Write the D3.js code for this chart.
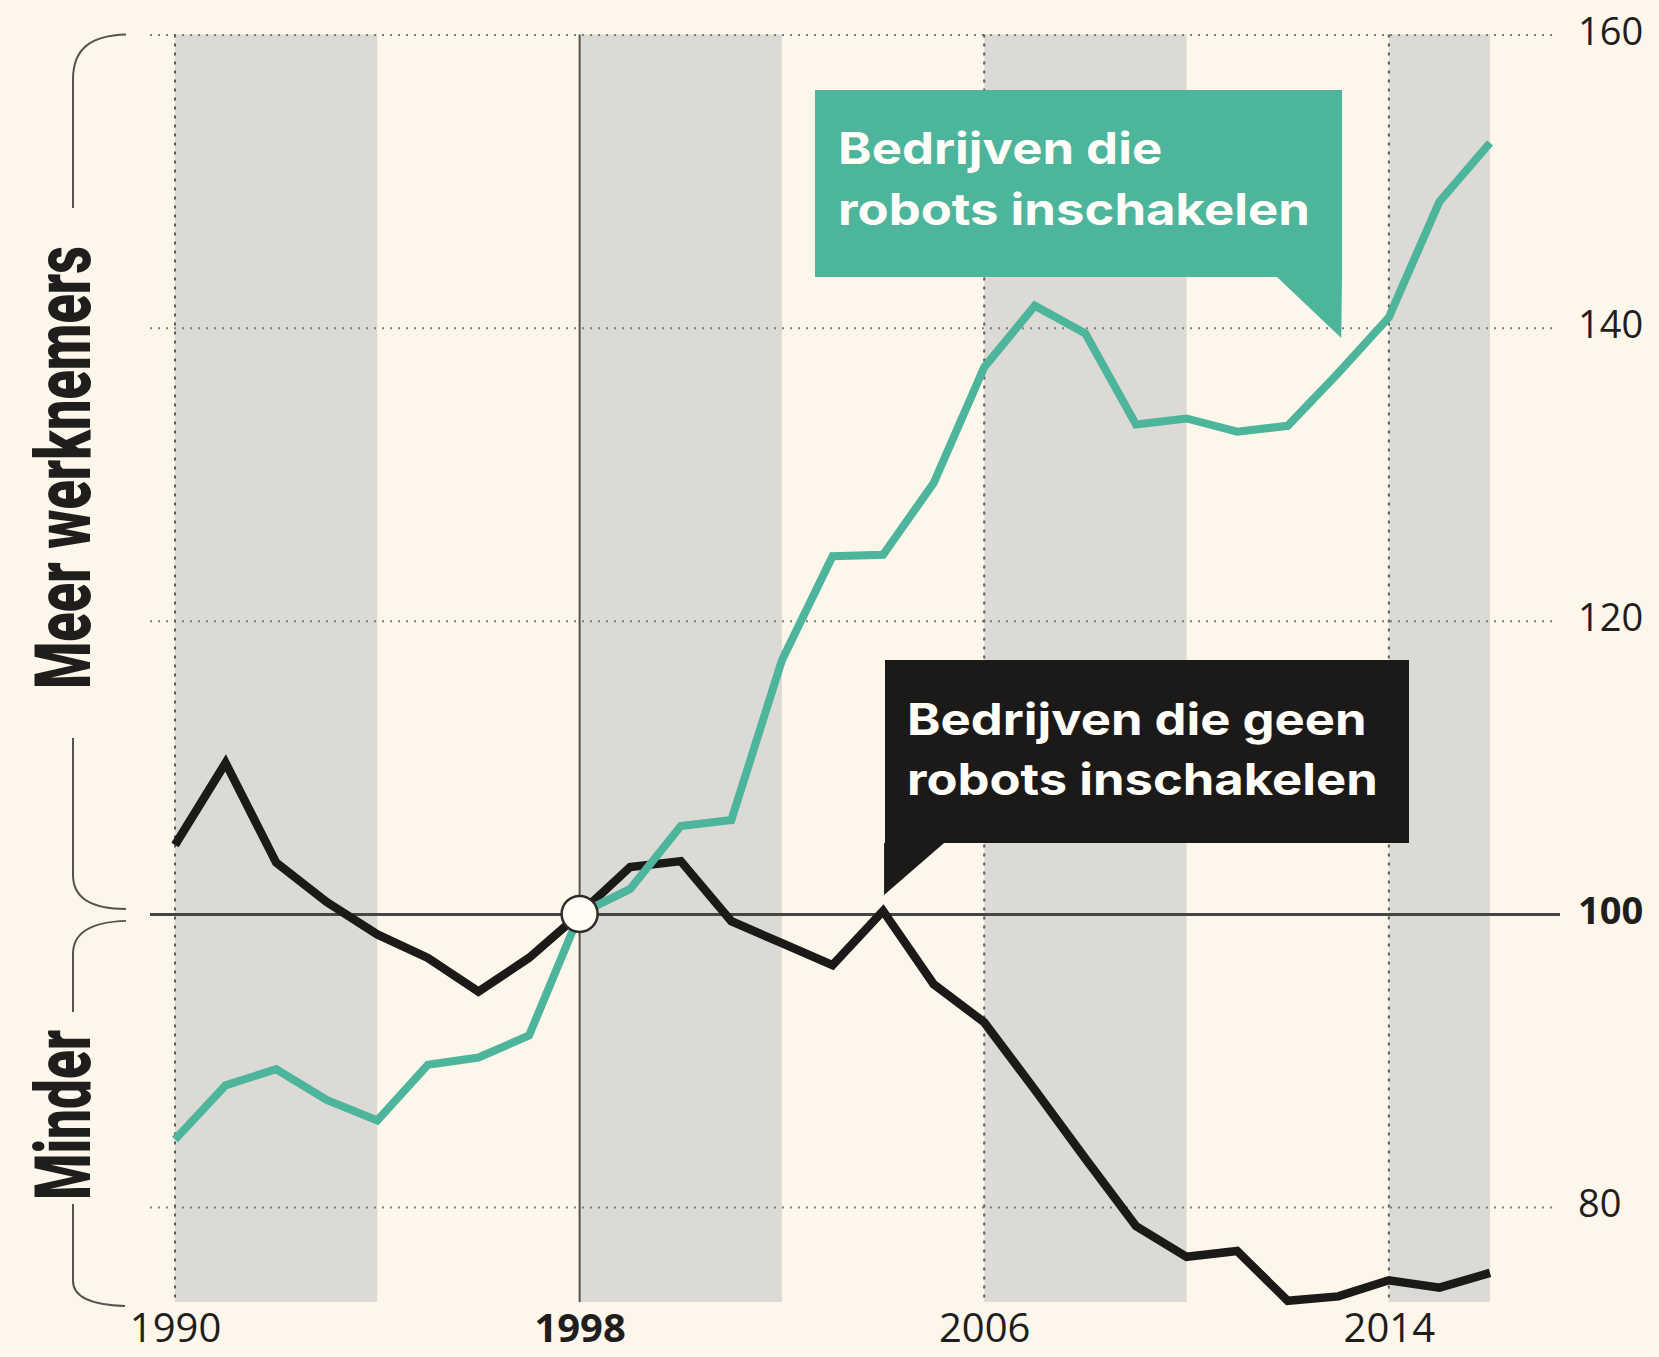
<!DOCTYPE html>
<html>
<head>
<meta charset="utf-8">
<script src="https://cdn.jsdelivr.net/npm/d3@7/dist/d3.min.js"></script>
<style>
  html, body { margin: 0; padding: 0; background: #fdf6eb; }
  svg { display: block; }
</style>
</head>
<body>
<svg id="chart" width="1659" height="1357"></svg>
<script>
// Werkgelegenheid, index 1998 = 100
const years = [1990, 1991, 1992, 1993, 1994, 1995, 1996, 1997, 1998, 1999, 2000, 2001, 2002,
               2003, 2004, 2005, 2006, 2007, 2008, 2009, 2010, 2011, 2012, 2013, 2014, 2015, 2016];

// Bedrijven die robots inschakelen
const robotFirms = [84.6, 88.3, 89.4, 87.3, 85.9, 89.7, 90.2, 91.7, 100, 101.7, 106.0, 106.4, 117.3,
                    124.4, 124.5, 129.4, 137.3, 141.5, 139.6, 133.4, 133.8, 132.9, 133.3, 136.9, 140.7, 148.6, 152.6];

// Bedrijven die geen robots inschakelen
const nonRobotFirms = [104.7, 110.3, 103.5, 100.8, 98.6, 97.0, 94.7, 97.0, 100, 103.2, 103.6, 99.5, 98.0,
                       96.5, 100.2, 95.2, 92.6, 88.0, 83.3, 78.7, 76.6, 77.0, 73.6, 73.9, 75.0, 74.5, 75.5];

const yTicks = [80, 100, 120, 140, 160];
const xTickYears = [1990, 1998, 2006, 2014];
const shadedPeriods = [[1990, 1994], [1998, 2002], [2006, 2010], [2014, 2016]];
const robotLabel = ["Bedrijven die", "robots inschakelen"];
const nonRobotLabel = ["Bedrijven die geen", "robots inschakelen"];
const moreLabel = "Meer werknemers";
const lessLabel = "Minder";
const baseYear = 1998;
const baseValue = 100;

const colors = {
  bg: "#fdf6eb",
  band: "#dcdad5",
  green: "#4db59c",
  black: "#1b1a19",
  grid: "#7c7c7c",
  axis: "#474542",
  text: "#1f1e1d"
};

const svg = d3.select("#chart");
const W = 1659, H = 1357;

const x = d3.scaleLinear().domain([1990, 2016]).range([175, 1490]);
const y = d3.scaleLinear().domain([80, 160]).range([1207, 34.5]);

const plotTop = y(160), plotBottom = 1302;
const gridLeft = 150, gridRight = 1557;

svg.append("rect").attr("width", W).attr("height", H).attr("fill", colors.bg);

// shaded periods
svg.append("g").selectAll("rect").data(shadedPeriods).join("rect")
  .attr("x", d => x(d[0]))
  .attr("width", d => x(d[1]) - x(d[0]))
  .attr("y", plotTop)
  .attr("height", plotBottom - plotTop)
  .attr("fill", colors.band);

// horizontal gridlines
const yAxis = d3.axisRight(y).tickValues(yTicks).tickSize(0).tickPadding(0);
const yG = svg.append("g").call(yAxis);
yG.select(".domain").remove();
yG.selectAll(".tick line").remove();
yG.selectAll(".tick").each(function (d) {
  const g = d3.select(this);
  g.insert("line", "text")
    .attr("x1", gridLeft).attr("x2", d === baseValue ? gridRight + 3 : gridRight)
    .attr("y1", 0).attr("y2", 0)
    .attr("stroke", d === baseValue ? colors.axis : colors.grid)
    .attr("stroke-width", d === baseValue ? 3 : 2)
    .attr("stroke-dasharray", d === baseValue ? null : "2,6");
});
yG.selectAll(".tick text")
  .attr("x", 1578)
  .attr("dy", "0.25em")
  .attr("text-anchor", "start")
  .attr("fill", colors.text)
  .style("font-family", "'Open Sans', sans-serif")
  .style("font-size", "38px")
  .style("font-weight", d => d === baseValue ? 700 : 400);

// vertical year lines
svg.append("g").selectAll("line").data(xTickYears).join("line")
  .attr("x1", d => x(d)).attr("x2", d => x(d))
  .attr("y1", plotTop).attr("y2", plotBottom)
  .attr("stroke", d => d === baseYear ? "#555351" : "#5f5d5a")
  .attr("stroke-width", 2)
  .attr("stroke-dasharray", d => d === baseYear ? null : "3,6");

// x axis labels
const xAxis = d3.axisBottom(x).tickValues(xTickYears).tickFormat(d3.format("d")).tickSize(0).tickPadding(0);
const xG = svg.append("g").attr("transform", `translate(0,${1342})`).call(xAxis);
xG.select(".domain").remove();
xG.selectAll(".tick text")
  .attr("y", 0).attr("dy", 0)
  .attr("fill", colors.text)
  .style("font-family", "'Open Sans', sans-serif")
  .style("font-size", "40px")
  .style("font-weight", d => d === baseYear ? 700 : 400);

// callouts
function callout(box, pointer, lines, fill) {
  const g = svg.append("g");
  g.append("rect")
    .attr("x", box.x).attr("y", box.y)
    .attr("width", box.w).attr("height", box.h)
    .attr("fill", fill);
  g.append("path")
    .attr("d", d3.line()(pointer) + "Z")
    .attr("fill", fill);
  const texts = g.selectAll("text").data(lines).join("text")
    .attr("x", 0).attr("y", 0)
    .attr("fill", "#fffdf7")
    .style("font-family", "Inter, 'Noto Sans', sans-serif")
    .style("font-size", "44px")
    .style("font-weight", 700)
    .text(d => d);
  // fit the widest line to the box
  const widest = d3.max(texts.nodes(), n => n.getComputedTextLength());
  const k = box.textW / widest;
  texts.attr("transform", (d, i) =>
    `translate(${box.x + box.padX},${box.y + box.base + i * box.lead}) scale(${k},1)`);
}

const tipBlack = [x(2004), y(baseValue) - 19];
callout(
  { x: 885, y: 660, w: 524, h: 183, padX: 22, base: 75, lead: 60, textW: 471 },
  [[tipBlack[0] + 1, 843], [tipBlack[0] + 61, 843], [tipBlack[0] + 1, tipBlack[1]]],
  nonRobotLabel, colors.black
);

const tipGreen = [x(2013) + 3, 338];
callout(
  { x: 815, y: 90, w: 527, h: 187, padX: 23, base: 74, lead: 61, textW: 472 },
  [[1277, 277], [1342, 277], [tipGreen[0], tipGreen[1]]],
  robotLabel, colors.green
);

// series lines
const line = d3.line()
  .x((d, i) => x(years[i]))
  .y(d => y(d))
  .curve(d3.curveLinear);

svg.append("path")
  .datum(nonRobotFirms)
  .attr("d", line)
  .attr("fill", "none")
  .attr("stroke", colors.black)
  .attr("stroke-width", 8.5)
  .attr("stroke-linejoin", "miter")
  .attr("stroke-miterlimit", 6);

svg.append("path")
  .datum(robotFirms)
  .attr("d", line)
  .attr("fill", "none")
  .attr("stroke", colors.green)
  .attr("stroke-width", 8)
  .attr("stroke-linejoin", "miter")
  .attr("stroke-miterlimit", 6);

// base year marker
svg.append("circle")
  .attr("cx", x(baseYear)).attr("cy", y(baseValue))
  .attr("r", 18)
  .attr("fill", "#fffcf4")
  .attr("stroke", "#2e2c2a")
  .attr("stroke-width", 2.5);

// left bracket
const bx = 73;
const bracket = svg.append("g")
  .attr("fill", "none")
  .attr("stroke", "#55534f")
  .attr("stroke-width", 2);
const midTop = y(baseValue) - 5, midBot = y(baseValue) + 7;
[
  `M126,${plotTop} C92,${plotTop + 1} ${bx},${plotTop + 13} ${bx},${plotTop + 45} V208`,
  `M${bx},738 V${midTop - 34} C${bx},${midTop - 11} 92,${midTop} 126,${midTop}`,
  `M126,${midBot} C92,${midBot + 1} ${bx},${midBot + 11} ${bx},${midBot + 33} V1012`,
  `M${bx},1204 V1281 C${bx},1298 92,1305 125,1306`
].forEach(d => bracket.append("path").attr("d", d));

// side labels
function sideLabel(text, startY, length) {
  svg.append("text")
    .attr("transform", `translate(90,${startY}) rotate(-90)`)
    .attr("fill", colors.text)
    .attr("textLength", length)
    .attr("lengthAdjust", "spacingAndGlyphs")
    .style("font-family", "Roboto, 'Liberation Sans', sans-serif")
    .style("font-size", "77px")
    .style("font-weight", 900)
    .text(text);
}
sideLabel(moreLabel, 689, 443);
sideLabel(lessLabel, 1200, 170);
</script>
</body>
</html>
